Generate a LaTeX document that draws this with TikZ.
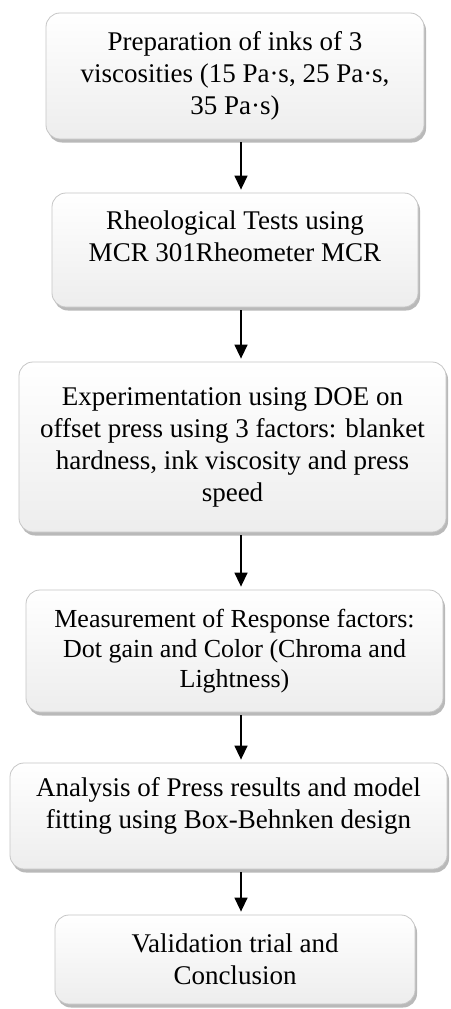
\documentclass[tikz,border=0pt]{standalone}
\usepackage{fontspec}
\setmainfont{Liberation Serif}
\usetikzlibrary{arrows.meta,shadows}
\tikzset{
  flowbox/.style={draw=gray!45, line width=0.8pt, rounded corners=14pt,
    top color=white, bottom color=gray!14, align=center, inner sep=0pt,
    font=\fontsize{27}{32}\selectfont,
    drop shadow={shadow xshift=2pt, shadow yshift=-3.5pt, fill=gray!60, opacity=0.9}},
  arr/.style={line width=1.4pt, -{Triangle[width=13pt,length=14pt]}, shorten >=3pt, shorten <=3pt}
}
\begin{document}
\begin{tikzpicture}[x=1pt,y=-1pt]
\useasboundingbox[fill=white] (0,0) rectangle (450,1009);
\coordinate (ax) at (241,0);
\node[flowbox, minimum width=378pt, minimum height=126pt] (b1) at (235,76)
  {Preparation of inks of 3\\viscosities (15 Pa·s, 25 Pa·s,\\35 Pa·s)};
\node[flowbox, minimum width=366pt, minimum height=114pt] (b2) at (235,250)
  {Rheological Tests using\\MCR 301Rheometer MCR\\[-4pt]\mbox{}};
\node[flowbox, minimum width=427pt, minimum height=170pt] (b3) at (232.5,447)
  {Experimentation using DOE on\\offset press using 3 factors: blanket\\hardness, ink viscosity and press\\speed};
\node[flowbox, minimum width=417pt, minimum height=122pt, font=\fontsize{26}{30}\selectfont] (b4) at (234.5,651)
  {Measurement of Response factors:\\Dot gain and Color (Chroma and\\Lightness)};
\node[flowbox, minimum width=437pt, minimum height=106pt] (b5) at (228.5,816)
  {Analysis of Press results and model\\fitting using Box-Behnken design\\[-6pt]\mbox{}};
\node[flowbox, minimum width=360pt, minimum height=89pt] (b6) at (235,959.5)
  {Validation trial and\\Conclusion};
\draw[arr] (b1.south -| ax) -- (b2.north -| ax);
\draw[arr] (b2.south -| ax) -- (b3.north -| ax);
\draw[arr] (b3.south -| ax) -- (b4.north -| ax);
\draw[arr] (b4.south -| ax) -- (b5.north -| ax);
\draw[arr] (b5.south -| ax) -- (b6.north -| ax);
\end{tikzpicture}
\end{document}
